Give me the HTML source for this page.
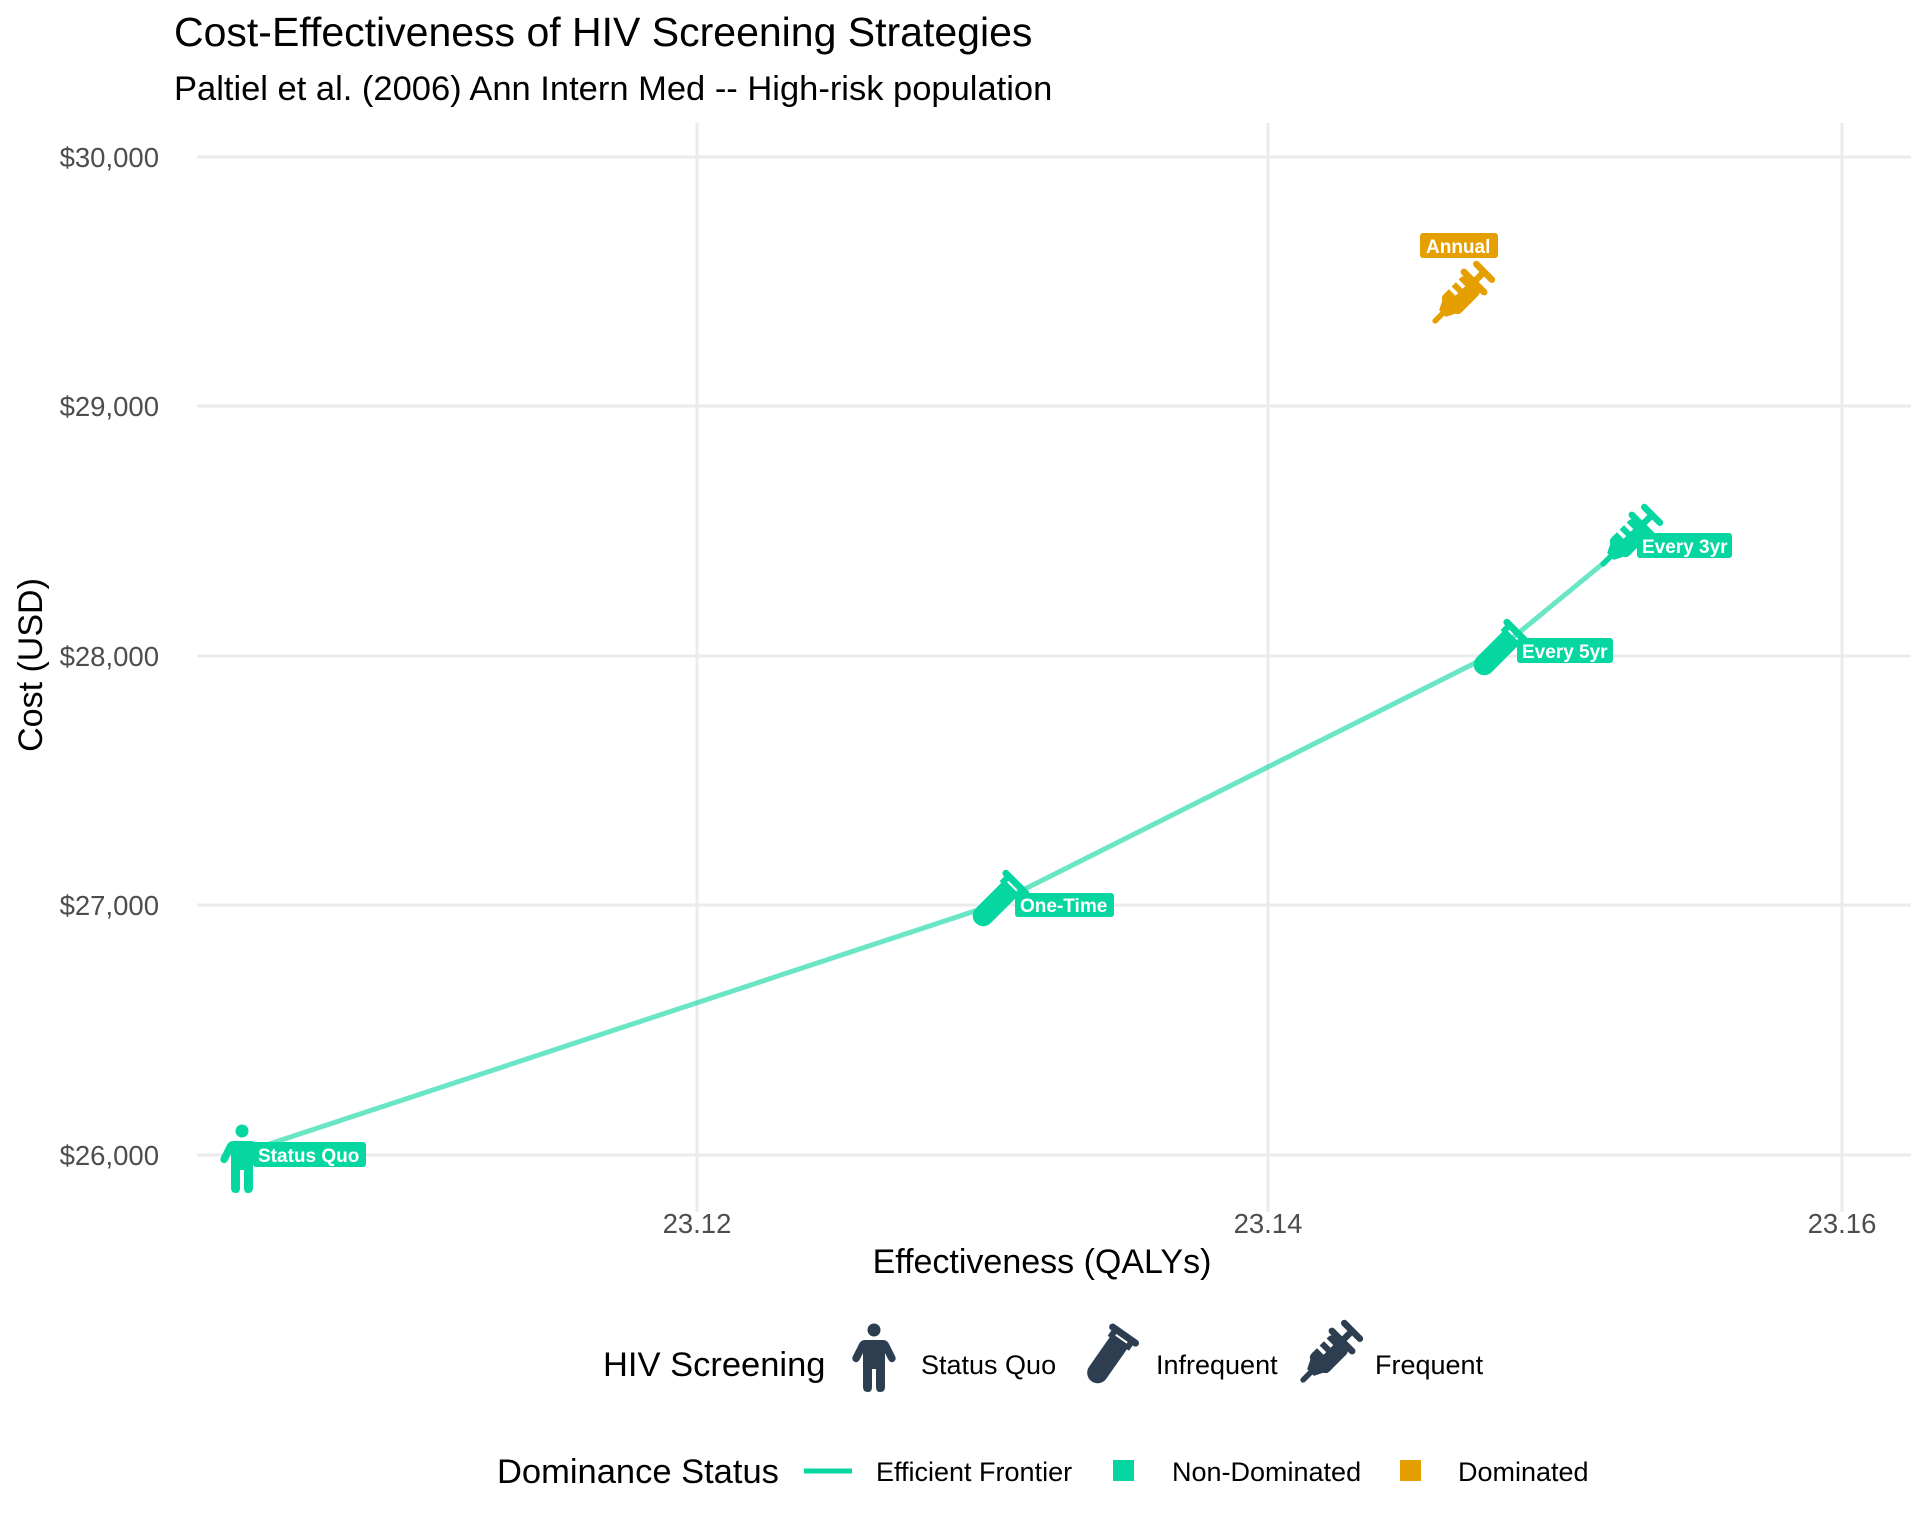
<!DOCTYPE html>
<html><head><meta charset="utf-8"><style>
html,body{margin:0;padding:0;background:#fff;}
svg{display:block;font-family:"Liberation Sans",Arial,sans-serif;}
</style></head><body>
<svg width="1920" height="1536" viewBox="0 0 1920 1536" xmlns="http://www.w3.org/2000/svg">
<defs>
 <g id="syr">
  <rect x="-11" y="-16" width="22" height="30" rx="4"/>
  <path d="M-11 8 L-4 22 L4 22 L11 8 Z"/>
  <line x1="0" y1="18" x2="0" y2="32" stroke-width="5" stroke-linecap="round"/>
  <line x1="0" y1="-16" x2="0" y2="-30" stroke-width="6"/>
  <line x1="-13" y1="-18" x2="13" y2="-18" stroke-width="6" stroke-linecap="round"/>
  <line x1="-10" y1="-31" x2="10" y2="-31" stroke-width="6" stroke-linecap="round"/>
  <line x1="-12" y1="-8" x2="-3" y2="-8" stroke="#fff" stroke-width="3.5"/>
  <line x1="-12" y1="1" x2="-3" y2="1" stroke="#fff" stroke-width="3.5"/>
 </g>
 <g id="tube">
  <path d="M-10 -22 L10 -22 L10 18 A10 10 0 0 1 -10 18 Z"/>
  <line x1="-14" y1="-28" x2="14" y2="-28" stroke-width="7" stroke-linecap="round"/>
  <line x1="-10" y1="-28" x2="-10" y2="-18" stroke-width="6"/>
  <line x1="10" y1="-28" x2="10" y2="-18" stroke-width="6"/>
 </g>
 <g id="person">
  <circle cx="0" cy="-27" r="6.5"/>
  <path d="M-9 -17 L9 -17 Q13 -17 15 -13 L21 -1 Q23 3 19 5 Q16 6 14 2 L11 -4 L11 30 Q11 35 6 35 Q2 35 2 30 L2 12 L-2 12 L-2 30 Q-2 35 -6 35 Q-11 35 -11 30 L-11 -4 L-14 2 Q-16 6 -19 5 Q-23 3 -21 -1 L-15 -13 Q-13 -17 -9 -17 Z"/>
 </g>
</defs>
<rect width="1920" height="1536" fill="#fff"/>
<text x="174" y="46" font-size="41" fill="#000">Cost-Effectiveness of HIV Screening Strategies</text>
<text x="174" y="100" font-size="34.5" fill="#000">Paltiel et al. (2006) Ann Intern Med -- High-risk population</text>
<!-- grid -->
<g stroke="#ebebeb" stroke-width="3">
 <line x1="197" y1="157" x2="1911" y2="157"/>
 <line x1="197" y1="406" x2="1911" y2="406"/>
 <line x1="197" y1="656" x2="1911" y2="656"/>
 <line x1="197" y1="905" x2="1911" y2="905"/>
 <line x1="197" y1="1155" x2="1911" y2="1155"/>
 <line x1="697" y1="123" x2="697" y2="1212"/>
 <line x1="1268" y1="123" x2="1268" y2="1212"/>
 <line x1="1842" y1="123" x2="1842" y2="1212"/>
</g>
<g font-size="27.5" fill="#4d4d4d" text-anchor="end">
 <text x="159" y="167">$30,000</text>
 <text x="159" y="416">$29,000</text>
 <text x="159" y="666">$28,000</text>
 <text x="159" y="915">$27,000</text>
 <text x="159" y="1165">$26,000</text>
</g>
<g font-size="27.5" fill="#4d4d4d" text-anchor="middle">
 <text x="697" y="1233">23.12</text>
 <text x="1268" y="1233">23.14</text>
 <text x="1842" y="1233">23.16</text>
</g>
<text x="1042" y="1273" font-size="34" text-anchor="middle" fill="#000">Effectiveness (QALYs)</text>
<text transform="translate(42,665) rotate(-90)" font-size="34" text-anchor="middle" fill="#000">Cost (USD)</text>
<!-- frontier -->
<polyline points="242,1153 993,905 1493,654 1623,547" fill="none" stroke="#06d6a0" stroke-opacity="0.6" stroke-width="5"/>
<!-- points -->
<use href="#person" transform="translate(242,1158)" fill="#06d6a0"/>
<use href="#tube" transform="translate(996,903) rotate(45)" fill="#06d6a0" stroke="#06d6a0"/>
<use href="#tube" transform="translate(1497,652) rotate(45)" fill="#06d6a0" stroke="#06d6a0"/>
<use href="#syr" transform="translate(1628,539) rotate(45) scale(1.1)" fill="#06d6a0" stroke="#06d6a0"/>
<use href="#syr" transform="translate(1460,296) rotate(45) scale(1.1)" fill="#e69f00" stroke="#e69f00"/>
<!-- labels -->
<g font-size="19" font-weight="bold" fill="#fff">
 <rect x="253" y="1142" width="113" height="25" rx="3" fill="#06d6a0"/>
 <text x="258" y="1162">Status Quo</text>
 <rect x="1015" y="893" width="99" height="24" rx="3" fill="#06d6a0"/>
 <text x="1020" y="912">One-Time</text>
 <rect x="1517" y="638" width="96" height="25" rx="3" fill="#06d6a0"/>
 <text x="1522" y="658">Every 5yr</text>
 <rect x="1637" y="533" width="95" height="25" rx="3" fill="#06d6a0"/>
 <text x="1642" y="553">Every 3yr</text>
 <rect x="1420" y="233" width="78" height="25" rx="3" fill="#e69f00"/>
 <text x="1426" y="253">Annual</text>
</g>
<!-- legend 1 -->
<text x="603" y="1376" font-size="34.5" fill="#000">HIV Screening</text>
<use href="#person" transform="translate(874,1357)" fill="#2c3e50"/>
<use href="#tube" transform="translate(1108,1358) rotate(35)" fill="#2c3e50" stroke="#2c3e50"/>
<use href="#syr" transform="translate(1328,1355) rotate(45) scale(1.1)" fill="#2c3e50" stroke="#2c3e50"/>
<g font-size="27" fill="#000">
 <text x="921" y="1374">Status Quo</text>
 <text x="1156" y="1374">Infrequent</text>
 <text x="1375" y="1374">Frequent</text>
</g>
<!-- legend 2 -->
<text x="497" y="1483" font-size="34.5" fill="#000">Dominance Status</text>
<line x1="804" y1="1471" x2="852" y2="1471" stroke="#06d6a0" stroke-width="5"/>
<rect x="1113" y="1460" width="21" height="21" fill="#06d6a0"/>
<rect x="1400" y="1460" width="21" height="21" fill="#e69f00"/>
<g font-size="27" fill="#000">
 <text x="876" y="1481">Efficient Frontier</text>
 <text x="1172" y="1481">Non-Dominated</text>
 <text x="1458" y="1481">Dominated</text>
</g>
</svg>
</body></html>
